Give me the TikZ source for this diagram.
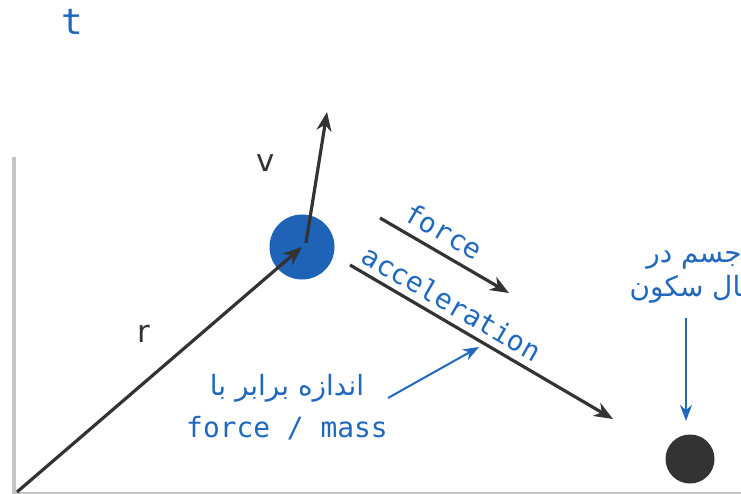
\documentclass[tikz,border=0pt]{standalone}
\usepackage{fontspec}
\setmainfont{DejaVu Sans}
\newfontfamily\monof{DejaVu Sans Mono}
\newfontfamily\arabicfont[Script=Arabic]{DejaVu Sans}
\TeXXeTstate=1
\usetikzlibrary{arrows.meta}
\definecolor{dk}{HTML}{333333}
\definecolor{bl}{HTML}{1F68BE}
\definecolor{ball}{HTML}{1E63B5}
\definecolor{ax}{HTML}{C4C4C6}
\tikzset{
  vec/.style={draw=dk, line width=3.2pt, -{Stealth[length=19pt,width=15pt,inset=6pt]}},
  note/.style={draw=bl, line width=2pt, -{Stealth[length=16pt,width=12pt,inset=5pt]}},
  lbl/.style={text=dk, font=\fontsize{31}{34}\selectfont, inner sep=0pt},
  code/.style={text=bl, font=\monof\fontsize{28}{30}\selectfont, inner sep=0pt},
  fa/.style={text=bl, font=\arabicfont\fontsize{28}{34}\selectfont, inner sep=0pt, align=center},
}
\begin{document}
\begin{tikzpicture}[x=1bp,y=-1bp]
\useasboundingbox (0,0) rectangle (741,494);
\clip (0,0) rectangle (741,494);
% axes
\draw[ax, line width=4pt] (14,157) -- (14,494);
\draw[ax, line width=2pt] (14,493) -- (741,493);
% time label
\node[code, font=\monof\fontsize{36}{38}\selectfont] (t) at (72,22) {t};
% balls
\node[circle, fill=ball, minimum size=65bp, inner sep=0pt] (b) at (302,247) {};
\node[circle, fill=dk, minimum size=49bp, inner sep=0pt] (rest) at (690,459) {};
\coordinate (o) at (17,492);
\coordinate (vend) at (327,112);
\coordinate (f1) at (380,218);
\coordinate (f2) at (509,293);
\coordinate (a1) at (350,265);
\coordinate (a2) at (613,419);
% vectors
\draw[vec] (o) -- (b.center);
\draw[vec] (306,243) -- (vend);
\draw[vec] (f1) -- (f2);
\draw[vec] (a1) -- (a2);
% labels
\node[lbl] (v) at (266,163) {v};
\node[lbl] (r) at (144,334) {r};
\node[code, rotate=-30] (force) at (444,231) {force};
\node[code, rotate=-30] (acc) at (452,303) {acceleration};
% notes
\node[fa] (eq) at (287,388) {\beginR اندازه برابر با\endR};
\node[code] (fm) at (287,428) {force / mass};
\coordinate (n1) at (388,398);
\coordinate (n2) at (479,347);
\draw[note] (n1) -- (n2);
\node[fa] (still) at (694,277) {\beginR جسم در\endR\\\beginR حال سکون\endR};
\coordinate (s1) at (686,318);
\draw[note] (s1) -- (686,421);
\end{tikzpicture}
\end{document}
